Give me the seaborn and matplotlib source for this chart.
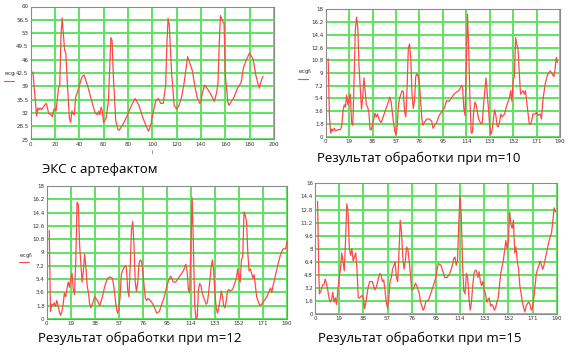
import numpy as np
import matplotlib
matplotlib.use("Agg")
import matplotlib.pyplot as plt
import seaborn as sns

# ECG with artefact (top left)
i_raw = [2, 5, 6, 7, 8, 9, 10, 12, 13, 15, 17, 18, 19, 20, 21, 23, 24, 25, 26, 28, 29, 31, 32, 33,
         34, 35, 36, 37, 40, 42, 44, 47, 50, 53, 55, 56, 57, 58, 59, 60, 62, 64, 66, 67, 68, 70, 72,
         73, 76, 79, 83, 86, 89, 92, 95, 97, 99, 100, 102, 103, 105, 107, 109, 110, 111, 112, 113,
         114, 116, 118, 120, 122, 124, 126, 129, 131, 133, 135, 137, 139, 140, 141, 143, 145, 148,
         151, 153, 154, 155, 156, 158, 159, 160, 162, 163, 165, 167, 170, 173, 175, 178, 180, 183,
         185, 187, 188, 190, 191]
ecg_raw = [42.8, 31.2, 33.3, 32.8, 33.3, 32.8, 33.3, 34.2, 34.5, 31.8, 31.5, 31.0, 32.8, 33.2, 32.5,
           38.5, 39.0, 52.0, 57.0, 48.5, 47.8, 35.5, 30.5, 29.5, 32.5, 31.8, 31.5, 36.0, 39.0, 41.3,
           42.0, 39.0, 35.5, 32.0, 31.5, 32.5, 31.5, 33.5, 32.5, 29.5, 30.5, 35.0, 51.8, 51.0, 42.0,
           30.0, 27.5, 27.5, 29.0, 31.0, 34.0, 35.8, 34.0, 31.0, 28.5, 27.2, 29.0, 31.0, 34.0, 35.2,
           35.8, 34.5, 34.5, 37.0, 39.0, 50.0, 56.9, 55.0, 42.0, 34.0, 33.0, 34.0, 36.0, 39.5, 46.8,
           45.0, 43.0, 39.0, 36.0, 34.5, 35.0, 37.0, 39.3, 38.5, 37.0, 35.0, 37.5, 40.0, 50.0, 57.6,
           56.0, 55.5, 42.0, 35.0, 34.0, 35.0, 36.0, 38.5, 40.0, 44.0, 46.5, 47.8, 46.0, 42.0, 39.5,
           38.5, 41.0, 41.6]

# result m=10 (top right)
i_m10 = [2, 3, 4, 5, 6, 7, 8, 10, 12, 13, 14, 15, 16, 17, 18, 19, 20, 21, 22, 23, 24, 25, 26, 27,
         28, 29, 30, 31, 32, 33, 34, 35, 36, 37, 38, 39, 40, 41, 42, 43, 44, 45, 46, 48, 50, 52,
         53, 54, 55, 56, 57, 58, 59, 60, 62, 63, 64, 65, 66, 67, 68, 69, 70, 71, 72, 73, 74, 75,
         76, 77, 78, 79, 80, 82, 84, 86, 87, 88, 90, 92, 94, 96, 97, 98, 100, 102, 104, 106, 108,
         110, 111, 112, 113, 114, 115, 116, 117, 118, 119, 120, 121, 122, 123, 124, 126, 127, 128,
         130, 131, 132, 133, 134, 135, 136, 137, 138, 139, 140, 141, 142, 143, 145, 147, 149, 150,
         151, 152, 153, 154, 155, 156, 157, 158, 159, 160, 161, 162, 163, 164, 165, 166, 167, 168,
         170, 171, 172, 174, 175, 176, 178, 180, 182, 184, 185, 186, 187, 188]
ecg_m10 = [11.0, 3.0, 0.5, 1.1, 0.8, 1.2, 0.8, 1.0, 1.0, 1.5, 3.5, 4.5, 4.2, 5.9, 4.5, 5.5, 6.0, 2.0,
           1.6, 8.0, 15.0, 16.9, 15.5, 10.0, 7.0, 3.9, 5.5, 8.3, 6.5, 4.5, 4.2, 3.5, 1.0, 1.0, 1.8,
           2.5, 3.3, 2.8, 3.2, 2.6, 2.2, 2.0, 2.5, 3.5, 4.5, 5.6, 5.0, 3.5, 2.0, 0.8, 0.3, 1.5, 4.5,
           5.5, 6.5, 6.3, 3.5, 2.8, 7.0, 12.5, 13.1, 11.0, 6.0, 4.0, 5.0, 8.5, 8.9, 8.5, 7.5, 5.0,
           2.5, 1.6, 2.0, 2.5, 2.5, 2.2, 1.2, 1.5, 2.0, 3.0, 3.5, 4.0, 4.5, 5.1, 5.0, 5.5, 6.0, 6.3,
           6.5, 7.2, 7.0, 4.0, 3.0, 10.0, 17.3, 12.0, 5.0, 0.5, 0.6, 3.5, 4.9, 4.5, 3.5, 2.5, 1.8,
           2.0, 4.5, 8.3, 6.0, 4.0, 1.5, 0.3, 1.0, 2.5, 3.8, 3.0, 1.5, 1.4, 2.0, 3.2, 2.8, 3.2, 4.5,
           5.5, 6.5, 5.0, 8.0, 8.5, 14.0, 13.0, 12.3, 9.0, 6.0, 6.3, 6.5, 6.0, 6.5, 5.0, 3.5, 1.9,
           1.7, 2.2, 3.2, 3.2, 3.5, 3.0, 3.2, 2.5, 5.0, 7.5, 8.8, 9.3, 8.8, 8.5, 9.5, 11.2, 10.5]

# result m=12 (bottom left)
i_m12 = [2, 3, 4, 5, 6, 7, 8, 9, 10, 11, 12, 13, 14, 15, 16, 17, 18, 19, 20, 21, 22, 23, 24, 25,
         26, 27, 28, 29, 30, 31, 32, 33, 34, 35, 36, 38, 40, 42, 44, 46, 48, 50, 52, 53, 54, 55,
         56, 57, 58, 59, 60, 62, 63, 64, 65, 66, 67, 68, 69, 70, 71, 72, 73, 74, 75, 76, 77, 78,
         79, 80, 82, 84, 86, 87, 89, 91, 93, 95, 97, 98, 99, 100, 102, 104, 106, 108, 110, 111,
         112, 113, 114, 115, 116, 117, 118, 119, 120, 121, 122, 123, 124, 125, 126, 127, 128, 130,
         131, 132, 133, 134, 135, 136, 137, 138, 139, 140, 141, 142, 143, 144, 145, 147, 149, 150,
         151, 152, 153, 154, 155, 156, 157, 158, 159, 160, 161, 162, 163, 164, 165, 166, 168, 169,
         170, 172, 174, 176, 177, 178, 179, 181, 183, 185, 187, 189, 190]
ecg_m12 = [12.0, 1.0, 2.0, 1.8, 2.2, 1.7, 2.5, 1.8, 1.0, 0.5, 1.0, 2.0, 3.5, 3.0, 4.0, 5.0, 4.3, 5.5,
           6.2, 4.0, 3.3, 8.0, 15.8, 15.5, 10.0, 7.5, 5.0, 6.5, 8.8, 7.0, 4.5, 3.5, 2.0, 1.5, 2.0,
           3.0, 2.5, 1.8, 3.0, 4.5, 5.5, 5.7, 5.5, 4.5, 3.0, 1.5, 0.8, 1.2, 3.0, 6.0, 6.6, 7.2, 7.0,
           4.0, 3.0, 7.0, 12.0, 13.2, 10.0, 5.0, 3.7, 5.0, 7.5, 8.0, 7.8, 6.5, 4.5, 2.8, 2.5, 2.8,
           2.5, 2.0, 1.2, 0.8, 1.0, 2.0, 3.0, 4.5, 5.5, 5.8, 5.5, 5.0, 5.0, 5.5, 6.0, 6.5, 7.4, 6.5,
           4.0, 3.5, 10.0, 16.4, 10.0, 2.0, 0.0, 0.2, 4.0, 4.8, 4.5, 3.5, 3.0, 2.5, 2.0, 2.2, 3.5,
           7.0, 8.0, 6.5, 3.5, 1.5, 0.8, 1.5, 2.5, 3.8, 3.0, 1.8, 1.5, 2.5, 3.8, 4.0, 3.8, 4.0, 5.0,
           5.5, 6.8, 5.5, 5.0, 8.0, 8.5, 14.5, 14.0, 13.2, 9.0, 6.5, 6.8, 6.2, 5.5, 6.0, 4.5, 3.0,
           2.0, 1.8, 2.0, 2.5, 3.0, 3.8, 4.2, 3.6, 4.5, 6.0, 7.5, 8.8, 9.5, 9.5, 10.5]

# result m=15 (bottom right)
i_m15 = [2, 3, 3.5, 5, 6, 7, 8, 9, 10, 11, 12, 13, 14, 15, 16, 17, 18, 19, 20, 21, 22, 23, 24, 25,
         26, 27, 28, 29, 30, 31, 32, 33, 34, 35, 37, 38, 39, 40, 41, 42, 43, 45, 46, 47, 48, 49,
         50, 51, 52, 53, 54, 55, 56, 57, 58, 59, 60, 61, 62, 63, 64, 65, 66, 67, 68, 69, 70, 71,
         72, 73, 74, 75, 76, 77, 79, 80, 82, 83, 84, 85, 86, 87, 89, 91, 93, 95, 96, 97, 99, 100,
         102, 104, 106, 108, 109, 110, 111, 112, 113, 114, 115, 116, 117, 118, 119, 120, 121, 122,
         123, 124, 125, 126, 127, 128, 129, 130, 131, 132, 133, 134, 135, 136, 137, 138, 139, 140,
         141, 142, 143, 144, 145, 146, 148, 150, 151, 152, 153, 154, 155, 156, 157, 158, 159, 160,
         161, 162, 163, 164, 165, 166, 167, 168, 169, 170, 171, 172, 173, 174, 175, 176, 177, 178,
         179, 180, 182, 184, 186, 187, 188, 189]
ecg_m15 = [13.8, 5.0, 2.5, 3.0, 3.6, 3.6, 4.3, 3.8, 3.0, 2.0, 1.5, 1.8, 2.7, 1.5, 2.0, 1.2, 3.0, 4.5,
           5.5, 7.5, 6.5, 5.3, 9.0, 13.5, 12.5, 8.0, 7.2, 8.0, 6.5, 7.0, 7.5, 5.5, 2.0, 2.0, 2.3,
           2.0, 0.7, 1.5, 2.5, 3.5, 4.0, 4.0, 3.5, 3.0, 3.2, 3.8, 4.5, 5.0, 4.8, 4.0, 4.2, 3.0, 1.5,
           0.8, 2.0, 4.0, 4.5, 5.5, 6.0, 6.4, 4.5, 4.0, 7.5, 11.5, 10.0, 7.0, 5.5, 6.5, 8.2, 8.0,
           6.5, 5.0, 3.0, 3.0, 3.8, 3.5, 2.5, 1.5, 1.0, 0.5, 0.8, 1.5, 1.7, 2.5, 3.5, 4.5, 5.5, 6.2,
           6.0, 5.5, 4.5, 4.5, 5.0, 6.0, 6.8, 7.0, 6.0, 6.5, 11.0, 14.5, 12.0, 6.0, 2.8, 2.5, 5.0,
           4.5, 2.0, 0.5, 1.5, 3.5, 5.0, 5.4, 5.3, 4.5, 5.2, 4.0, 3.5, 4.0, 3.0, 2.5, 1.5, 1.8, 2.0,
           1.0, 1.2, 1.0, 0.5, 0.8, 1.5, 2.0, 3.5, 5.0, 6.5, 9.0, 8.0, 9.0, 12.5, 11.0, 10.5, 11.5,
           7.5, 8.2, 6.5, 5.5, 3.5, 2.5, 1.5, 0.8, 0.3, 1.0, 1.3, 1.5, 1.2, 0.5, 0.8, 2.0, 3.5, 5.0,
           5.5, 6.0, 6.5, 6.0, 5.5, 6.0, 7.5, 9.0, 10.0, 11.5, 13.0, 12.5]

captions = ["ЭКС с артефактом", "Результат обработки при m=10",
            "Результат обработки при m=12", "Результат обработки при m=15"]

W, H = 581, 357
sns.set_style("white")
plt.rcParams['font.family'] = ['DejaVu Sans']

fig = plt.figure(figsize=(W / 100, H / 100), dpi=100)


def px_axes(left, top, right, bottom):
    return fig.add_axes([left / W, 1 - bottom / H, (right - left) / W, (bottom - top) / H])


def style(ax, xt, yt, xlim, ylim, yfmt):
    ax.set_xlim(*xlim)
    ax.set_ylim(*ylim)
    ax.set_xticks(xt)
    ax.set_yticks(yt)
    ax.set_yticklabels([yfmt(v) for v in yt])
    ax.grid(True, color='#5fe35f', linewidth=1.4)
    ax.set_axisbelow(True)
    ax.tick_params(length=0, labelsize=4.0, labelcolor='#333333', pad=1.5)
    for s in ax.spines.values():
        s.set_color('#8a8a8a')
        s.set_linewidth(0.8)
    ax.set_xlabel('')
    ax.set_ylabel('')


def fmt(v):
    return ('%.1f' % v).rstrip('0').rstrip('.')


red = '#ff4848'
panels = [
    ((30.5, 6.5, 274, 139.5), i_raw, ecg_raw, np.arange(0, 201, 20), np.arange(25, 60.1, 3.5), (0, 200), (25, 60)),
    ((325.7, 9.3, 560, 136.7), i_m10, ecg_m10, np.arange(0, 191, 19), np.arange(0, 18.1, 1.8), (0, 190), (0, 18)),
    ((46.7, 186, 287, 319), i_m12, ecg_m12, np.arange(0, 191, 19), np.arange(0, 18.1, 1.8), (0, 190), (0, 18)),
    ((315, 183.3, 556.7, 314.3), i_m15, ecg_m15, np.arange(0, 191, 19), np.arange(0, 16.1, 1.6), (0, 190), (0, 16)),
]

for box, xs, ys, xt, yt, xl, yl in panels:
    ax = px_axes(*box)
    sns.lineplot(x=xs, y=ys, ax=ax, color=red, linewidth=0.9, sort=False)
    style(ax, xt, yt, xl, yl, fmt)

# y axis labels with legend strokes (Mathcad style)
for x0, y0, lab in [(4, 74, r'$\mathregular{ecg_i}$'), (298, 72, r'$\mathregular{ecgf_i}$'),
                    (19, 255, r'$\mathregular{ecgf_i}$')]:
    fig.text(x0 / W, 1 - y0 / H, lab, fontsize=4.0, color='#333333', va='center', ha='left')
    fig.add_artist(plt.Line2D([x0 / W, (x0 + 10) / W], [1 - (y0 + 7) / H] * 2, color=red, lw=0.8))
fig.text(152 / W, 1 - 153 / H, 'i', fontsize=4.0, color='#333333', ha='center', va='center')

# captions
for (x0, y0), txt in zip([(42, 170), (317, 158), (38, 338), (318, 338)], captions):
    fig.text(x0 / W, 1 - y0 / H, txt, fontsize=9.5, family='Open Sans', color='black',
             ha='left', va='center')

fig.savefig('out.png', dpi=100)
